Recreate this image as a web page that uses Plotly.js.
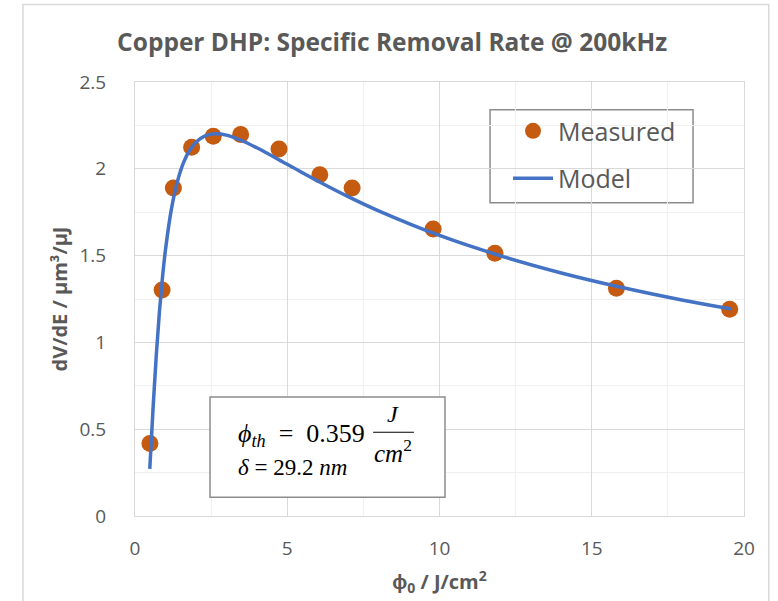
<!DOCTYPE html>
<html>
<head>
<meta charset="utf-8">
<script src="https://cdn.plot.ly/plotly-3.0.1.min.js"></script>
<style>html,body{margin:0;padding:0;background:#fff;}#chart{width:778px;height:601px;}</style>
</head>
<body>
<div id="chart"></div>
<script>
// Measured data (fluence J/cm², specific removal rate µm³/µJ)
const measuredX = [0.49, 0.89, 1.26, 1.86, 2.57, 3.47, 4.73, 6.07, 7.13, 9.79, 11.82, 15.81, 19.53];
const measuredY = [0.418, 1.302, 1.889, 2.124, 2.187, 2.197, 2.114, 1.966, 1.889, 1.653, 1.514, 1.312, 1.191];

// Model curve
const modelX = [0.485, 0.6, 0.7, 0.8, 0.9, 1.0, 1.2, 1.4, 1.6, 1.8, 2.0, 2.3, 2.65, 3.0, 3.5, 4.0, 5.0, 6.0, 7.0, 8.0, 10, 12, 14, 16, 18, 19.6];
const modelY = [0.272, 0.642, 0.930, 1.172, 1.370, 1.532, 1.772, 1.931, 2.038, 2.108, 2.153, 2.190, 2.202, 2.194, 2.163, 2.121, 2.026, 1.930, 1.840, 1.758, 1.616, 1.499, 1.400, 1.316, 1.243, 1.192];

const xTicks = [0, 5, 10, 15, 20];
const yTicks = [0, 0.5, 1, 1.5, 2, 2.5];

const gray = '#595959';
const font = 'Open Sans, sans-serif';
const mathFont = 'Liberation Serif, DejaVu Serif, serif';
const nb = '\u00a0';

const traces = [
  {
    x: measuredX, y: measuredY, type: 'scatter', mode: 'markers', name: 'Measured',
    legendgroup: 'a',
    marker: {color: '#c55a11', size: 17}
  },
  {
    x: modelX, y: modelY, type: 'scatter', mode: 'lines', name: 'Model',
    legendgroup: 'b',
    line: {color: '#4472c4', width: 3.5, shape: 'spline', smoothing: 1}
  }
];

const layout = {
  width: 778, height: 601,
  margin: {l: 135, r: 34, t: 82, b: 85},
  paper_bgcolor: '#fff', plot_bgcolor: '#fff',
  font: {family: font, color: gray},
  title: {
    text: 'Copper DHP: Specific Removal Rate @ 200kHz',
    font: {family: font, size: 24.5, color: gray, weight: 'bold'},
    x: 0.504, xref: 'container', xanchor: 'center',
    y: 1 - 42/601, yref: 'container', yanchor: 'middle'
  },
  xaxis: {
    range: [0, 20], tickvals: xTicks, ticktext: xTicks.map(String),
    showgrid: true, gridcolor: '#d9d9d9', gridwidth: 1,
    minor: {dtick: 2.5, showgrid: true, gridcolor: '#f0f0f0', gridwidth: 1},
    showline: true, linecolor: '#d9d9d9', linewidth: 1, mirror: true,
    zeroline: false, ticks: '', ticklabelstandoff: 15,
    tickfont: {family: font, size: 19, color: gray},
    title: {text: 'ϕ<sub>0</sub> / J/cm<sup>2</sup>', font: {family: font, size: 20, color: gray, weight: 'bold'}, standoff: 15}
  },
  yaxis: {
    range: [0, 2.5], tickvals: yTicks, ticktext: yTicks.map(String),
    showgrid: true, gridcolor: '#d9d9d9', gridwidth: 1,
    minor: {dtick: 0.25, showgrid: true, gridcolor: '#f0f0f0', gridwidth: 1},
    showline: true, linecolor: '#d9d9d9', linewidth: 1, mirror: true,
    zeroline: false, ticks: '', ticklabelstandoff: 24,
    tickfont: {family: font, size: 19, color: gray},
    title: {text: 'dV/dE / µm³/µJ', font: {family: font, size: 20, color: gray, weight: 'bold'}, standoff: 6}
  },
  showlegend: true,
  legend: {
    x: 0.6125, y: 0.94, xanchor: 'left', yanchor: 'top',
    bgcolor: 'rgba(0,0,0,0)', borderwidth: 0,
    font: {family: font, size: 25, color: gray},
    tracegroupgap: 12, itemwidth: 40,
    traceorder: 'grouped'
  },
  shapes: [
    {type: 'rect', xref: 'paper', yref: 'paper', x0: -0.184, x1: 1.0406, y0: -0.3, y1: 1.1786,
     line: {color: '#d9d9d9', width: 1.5}, fillcolor: 'rgba(0,0,0,0)', layer: 'below'},
    {type: 'rect', xref: 'paper', yref: 'paper', x0: 0.583, x1: 0.9163, y0: 0.7217, y1: 0.936,
     line: {color: '#8c8c8c', width: 1.5}, fillcolor: '#fff', layer: 'below'},
    {type: 'rect', xref: 'paper', yref: 'paper', x0: 0.1232, x1: 0.509, y0: 0.0432, y1: 0.274,
     line: {color: '#8c8c8c', width: 1.5}, fillcolor: '#fff', layer: 'above'},
    {type: 'line', xref: 'paper', yref: 'paper', x0: 0.391, x1: 0.458, y0: 0.193, y1: 0.193,
     line: {color: '#000', width: 1.2}, layer: 'above'}
  ],
  annotations: [
    {xref: 'paper', yref: 'paper', x: 0.166, y: 0.186, xanchor: 'left', yanchor: 'middle', showarrow: false,
     text: '<i>ϕ</i><sub><i>th</i></sub>' + nb + nb + '=' + nb + nb + '0.359', font: {family: mathFont, size: 26, color: '#000'}},
    {xref: 'paper', yref: 'paper', x: 0.424, y: 0.236, xanchor: 'center', yanchor: 'middle', showarrow: false,
     text: '<i>J</i>', font: {family: mathFont, size: 24, color: '#000'}},
    {xref: 'paper', yref: 'paper', x: 0.424, y: 0.149, xanchor: 'center', yanchor: 'middle', showarrow: false,
     text: '<i>cm</i><sup>2</sup>', font: {family: mathFont, size: 25, color: '#000'}},
    {xref: 'paper', yref: 'paper', x: 0.166, y: 0.112, xanchor: 'left', yanchor: 'middle', showarrow: false,
     text: '<i>δ</i> = 29.2 <i>nm</i>', font: {family: mathFont, size: 23, color: '#000'}}
  ]
};

Plotly.newPlot('chart', traces, layout, {displayModeBar: false, staticPlot: true});
</script>
</body>
</html>
